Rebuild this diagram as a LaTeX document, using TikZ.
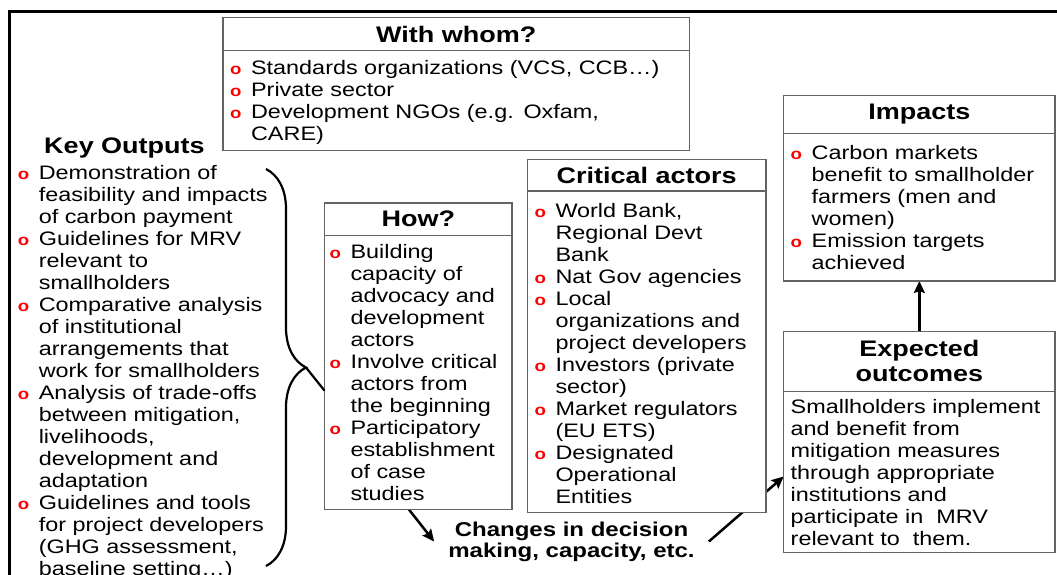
\documentclass[tikz,border=0pt]{standalone}
\usepackage{fontspec}
\setmainfont{Liberation Sans}[FakeStretch=1.2]
\usetikzlibrary{arrows.meta,positioning,decorations.pathreplacing,backgrounds}

\definecolor{boxgrey}{RGB}{100,100,100}

\newcommand{\bulmark}{{\color{red}\fontsize{15.5}{22}\selectfont\bfseries o}}
\newcommand{\bul}[1]{\hangindent=21pt\hangafter=1\noindent\makebox[21pt][l]{\bulmark}#1\par}

\tikzset{
  head/.style={draw=boxgrey, line width=1.4pt, fill=white, inner sep=0pt, outer sep=0pt,
    anchor=north west, font=\fontsize{22.5}{25}\selectfont\bfseries, align=center},
  list/.style={align=left, font=\fontsize{19.5}{22}\selectfont},
  body/.style={list, draw=boxgrey, line width=1.4pt, fill=white, inner xsep=7pt,
    inner ysep=0pt, outer sep=0pt, below=0pt of #1},
  link/.style={line width=2.5pt, -{Stealth[length=12pt,width=11pt,inset=2pt]}},
  frame/.style={line width=2.6pt},
}

\begin{document}
\begin{tikzpicture}[x=1pt, y=-1pt]
  \useasboundingbox (0,0) rectangle (1057,574);
  \draw[frame] (1070,11.5) -- (9.6,11.5) -- (9.6,590);

  \node[head, minimum width=466.4pt, minimum height=33.1pt] (whomhead) at (223.1,17.6) {With whom?};
  \node[body=whomhead, text width=452.4pt, text height=23.5pt, text depth=76.2pt] (whom) {%
    \bul{Standards organizations (VCS, CCB…)}%
    \bul{Private sector}%
    \bul{Development NGOs (e.g. Oxfam,\newline CARE)}};

  \node[font=\fontsize{22.5}{25}\selectfont\bfseries, anchor=base] (keyhead) at (124.5,153.8) {Key Outputs};
  \node[list, anchor=base west, inner sep=0pt, text width=272pt] (keylist) at (17.6,179) {%
    \bul{Demonstration of\newline feasibility and impacts\newline of carbon payment}%
    \bul{Guidelines for MRV\newline relevant to\newline smallholders}%
    \bul{Comparative analysis\newline of institutional\newline arrangements that\newline work for smallholders}%
    \bul{Analysis of trade-offs\newline between mitigation,\newline livelihoods,\newline development and\newline adaptation}%
    \bul{Guidelines and tools\newline for project developers\newline (GHG assessment,\newline baseline setting…)}};

  \node[head, minimum width=187.5pt, minimum height=32.8pt] (howhead) at (324.5,202.8) {How?};
  \node[body=howhead, inner xsep=5pt, text width=177.5pt, text height=23pt, text depth=250.6pt] (how) {%
    \bul{Building\newline capacity of\newline advocacy and\newline development\newline actors}%
    \bul{Involve critical\newline actors from\newline the beginning}%
    \bul{Participatory\newline establishment\newline of case\newline studies}};

  \node[head, minimum width=238.4pt, minimum height=31.8pt] (crithead) at (527.5,159.3) {Critical actors};
  \node[body=crithead, text width=224.4pt, text height=26pt, text depth=295.1pt] (crit) {%
    \bul{World Bank,\newline Regional Devt\newline Bank}%
    \bul{Nat Gov agencies}%
    \bul{Local\newline organizations and\newline project developers}%
    \bul{Investors (private\newline sector)}%
    \bul{Market regulators\newline (EU ETS)}%
    \bul{Designated\newline Operational\newline Entities}};

  \node[head, minimum width=271.3pt, minimum height=37.6pt] (imphead) at (783.7,95.7) {Impacts};
  \node[body=imphead, text width=257.3pt, text height=26pt, text depth=121.7pt] (impacts) {%
    \bul{Carbon markets\newline benefit to smallholder\newline farmers (men and\newline women)}%
    \bul{Emission targets\newline achieved}};

  \node[head, minimum width=271.3pt, minimum height=59.9pt] (exphead) at (783.7,331.4) {Expected\\outcomes};
  \node[body=exphead, text width=257.3pt, text height=22pt, text depth=139pt] (expected) {%
    Smallholders implement\newline and benefit from\newline mitigation measures\newline through appropriate\newline
    institutions and\newline participate in~ MRV\newline relevant to~ them.};

  \node[font=\fontsize{20}{21}\selectfont\bfseries, align=center, inner xsep=14pt] (changes) at (571.5,541.5)
    {Changes in decision\\making, capacity, etc.};

  \draw[line width=2.2pt, decorate, decoration={brace, amplitude=40pt}] (266,169) -- (266,566);
  \coordinate (tip) at (306,367.5);
  \draw[line width=2.2pt] (tip) -- (how.191);

  \begin{scope}[on background layer]
    \draw[link] (how.266) -- (changes.west);
    \draw[link] (changes.east) -- (expected.182);
    \draw[link] (exphead.north) -- (impacts.south);
  \end{scope}
\end{tikzpicture}
\end{document}
